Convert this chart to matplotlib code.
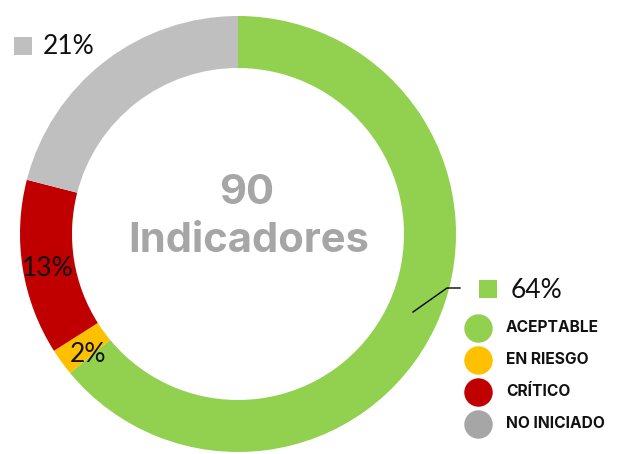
import matplotlib
matplotlib.use("Agg")
import matplotlib.pyplot as plt

# Data
categories = ["ACEPTABLE", "EN RIESGO", "CRÍTICO", "NO INICIADO"]
values = [64, 2, 13, 21]
pct_labels = ["64%", "2%", "13%", "21%"]
wedge_colors = ["#92D050", "#FFC000", "#C00000", "#BFBFBF"]
legend_colors = ["#92D050", "#FFC000", "#C00000", "#A6A6A6"]
total_text = "90"
center_caption = "Indicadores"

W, H = 622, 454
fig = plt.figure(figsize=(W / 100, H / 100), dpi=100)
ax = fig.add_axes([0, 0, 1, 1])

def Y(y):
    return H - y

cx, cy, R = 238, Y(234), 218
wedges, _ = ax.pie(values, colors=wedge_colors, startangle=90, counterclock=False,
                   center=(cx, cy), radius=R, frame=True,
                   wedgeprops=dict(width=52, linewidth=0))
ax.set_xlim(0, W)
ax.set_ylim(0, H)
ax.set_aspect("equal")
ax.axis("off")

font_num = "Lato"
bold_font = "Inter"
# percentage labels (positions)
label_pos = {0: (537, 290), 1: (88, 354), 2: (48, 269), 3: (69, 47)}
for i, (x, y) in label_pos.items():
    ax.text(x, Y(y), pct_labels[i], fontsize=19, family=font_num, color="#111111",
            ha="center", va="center")
# square markers beside outside labels
ax.scatter([488], [Y(289)], marker="s", s=160, color=wedge_colors[0], linewidths=0)
ax.scatter([23], [Y(46)], marker="s", s=160, color=wedge_colors[3], linewidths=0)
# leader line
ax.plot([413, 447, 460], [Y(312), Y(288), Y(288)], color="black", lw=1)

# center text
ax.text(247, Y(193), total_text, fontsize=30, fontweight="bold", family=bold_font,
        color="#A6A6A6", ha="center", va="center")
ax.text(249, Y(241), center_caption, fontsize=30, fontweight="bold", family=bold_font,
        color="#A6A6A6", ha="center", va="center")

# legend
for i, (cat, col) in enumerate(zip(categories, legend_colors)):
    yy = Y(328 + 32 * i)
    ax.scatter([478], [yy], s=420, color=col, linewidths=0)
    ax.text(506, yy, cat, fontsize=11.2, fontweight="bold", family=bold_font,
            color="#111111", ha="left", va="center")

fig.savefig("out.png", dpi=100)
